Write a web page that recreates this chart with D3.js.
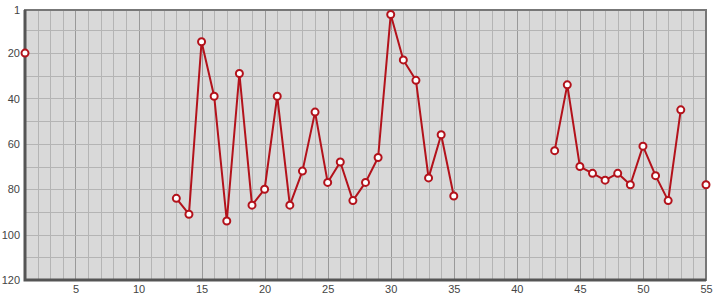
<!DOCTYPE html>
<html>
<head>
<meta charset="utf-8">
<script src="https://cdn.jsdelivr.net/npm/d3@7"></script>
<style>
  body { margin: 0; background: #fff; }
</style>
</head>
<body>
<div id="chart"></div>
<script>
const width = 715, height = 300;

// rank per position (null = missing)
const positions = d3.range(1, 56);
const ranks = [
  20, null, null, null, null, null, null, null, null, null,
  null, null, 84, 91, 15, 39, 94, 29, 87, 80,
  39, 87, 72, 46, 77, 68, 85, 77, 66, 3,
  23, 32, 75, 56, 83, null, null, null, null, null,
  null, null, 63, 34, 70, 73, 76, 73, 78, 61,
  74, 85, 45, null, 78
];
const yTicks = [1, 20, 40, 60, 80, 100, 120];
const xTicks = [5, 10, 15, 20, 25, 30, 35, 40, 45, 50, 55];

const data = positions.map((p, i) => ({x: p, y: ranks[i]}));

const margin = {top: 10, right: 9, bottom: 20, left: 25};

const x = d3.scaleLinear().domain([1, 55]).range([margin.left, width - margin.right]);
const y = d3.scaleLinear().domain([1, 120]).range([margin.top, height - margin.bottom]);

const svg = d3.select("#chart").append("svg")
  .attr("width", width)
  .attr("height", height);

// background
svg.append("rect")
  .attr("x", x(1)).attr("y", y(1))
  .attr("width", x(55) - x(1)).attr("height", y(120) - y(1))
  .attr("fill", "#d9d9d9");

// grid
const grid = svg.append("g");
grid.selectAll(".vx")
  .data(d3.range(2, 55))
  .join("line")
  .attr("x1", d => Math.round(x(d)) + 0.5).attr("x2", d => Math.round(x(d)) + 0.5)
  .attr("y1", y(1)).attr("y2", y(120))
  .attr("stroke", d => d % 5 === 0 ? "#999" : "#b4b4b4")
  .attr("stroke-width", 1);
grid.selectAll(".hy")
  .data(d3.range(10, 120, 10))
  .join("line")
  .attr("y1", d => Math.round(y(d)) + 0.5).attr("y2", d => Math.round(y(d)) + 0.5)
  .attr("x1", x(1)).attr("x2", x(55))
  .attr("stroke", "#b4b4b4")
  .attr("stroke-width", 1);

// frame
svg.append("rect")
  .attr("x", x(1)).attr("y", y(1))
  .attr("width", x(55) - x(1)).attr("height", y(120) - y(1))
  .attr("fill", "none")
  .attr("stroke", "#777")
  .attr("stroke-width", 2);
svg.append("path")
  .attr("d", `M${x(1)},${y(1)}V${y(120)}H${x(55)}`)
  .attr("fill", "none")
  .attr("stroke", "#555")
  .attr("stroke-width", 3);

// axes
const yAxis = svg.append("g")
  .attr("transform", `translate(${x(1) - 5},0)`)
  .call(d3.axisLeft(y).tickValues(yTicks).tickSize(0).tickPadding(0));
yAxis.select(".domain").remove();
yAxis.selectAll("text")
  .attr("fill", "#444")
  .style("font-size", "11px")
  .style("font-family", "'Liberation Sans', Arial, sans-serif");

const xAxis = svg.append("g")
  .attr("transform", `translate(0,${y(120) + 5})`)
  .call(d3.axisBottom(x).tickValues(xTicks).tickSize(0).tickPadding(0));
xAxis.select(".domain").remove();
xAxis.selectAll("text")
  .attr("fill", "#444")
  .style("font-size", "11px")
  .style("font-family", "'Liberation Sans', Arial, sans-serif");

// line
const line = d3.line()
  .defined(d => d.y !== null)
  .x(d => x(d.x))
  .y(d => y(d.y));

svg.append("path")
  .datum(data)
  .attr("d", line)
  .attr("fill", "none")
  .attr("stroke", "#b3121b")
  .attr("stroke-width", 2)
  .attr("stroke-linejoin", "round");

svg.append("g")
  .selectAll("circle")
  .data(data.filter(d => d.y !== null))
  .join("circle")
  .attr("cx", d => x(d.x))
  .attr("cy", d => y(d.y))
  .attr("r", 3.5)
  .attr("fill", "#fff")
  .attr("stroke", "#b3121b")
  .attr("stroke-width", 2);
</script>
</body>
</html>
